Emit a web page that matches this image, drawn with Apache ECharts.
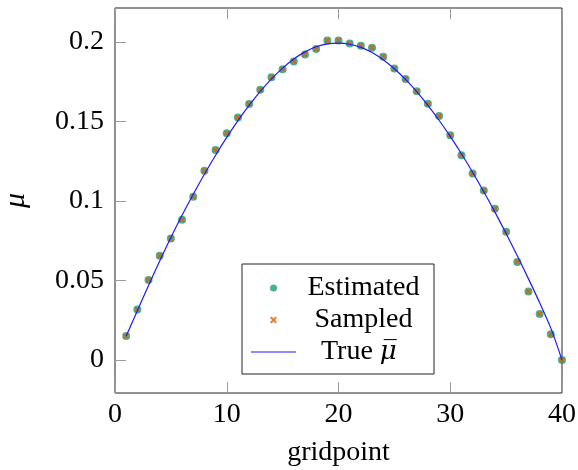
<!DOCTYPE html>
<html>
<head>
<meta charset="utf-8">
<script src="https://cdn.jsdelivr.net/npm/echarts@6/dist/echarts.min.js"></script>
<style>html,body{margin:0;padding:0;background:#fff}#c{width:578px;height:470px}</style>
</head>
<body>
<div id="c"></div>
<script>
const gridpoints = [1,2,3,4,5,6,7,8,9,10,11,12,13,14,15,16,17,18,19,20,21,22,23,24,25,26,27,28,29,30,31,32,33,34,35,36,37,38,39,40];
const estimated = [0.0151,0.0318,0.0503,0.0656,0.0764,0.0882,0.1026,0.1190,0.1320,0.1426,0.1525,0.1610,0.1700,0.1778,0.1828,0.1878,0.1922,0.1956,0.2010,0.2010,
                   0.1991,0.1977,0.1964,0.1908,0.1834,0.1768,0.1690,0.1612,0.1535,0.1413,0.1288,0.1173,0.1066,0.0951,0.0807,0.0616,0.0430,0.0289,0.0161,0.0000];
const sampled = [0.0151,0.0318,0.0503,0.0656,0.0764,0.0882,0.1026,0.1190,0.1320,0.1426,0.1525,0.1610,0.1700,0.1778,0.1828,0.1878,0.1922,0.1956,0.2010,0.2010,
                 0.1991,0.1977,0.1964,0.1908,0.1834,0.1768,0.1690,0.1612,0.1535,0.1413,0.1288,0.1173,0.1066,0.0951,0.0807,0.0616,0.0430,0.0289,0.0161,0.0000];
const trueMu = [0.0150,0.0310,0.0468,0.0622,0.0770,0.0910,0.1042,0.1168,0.1288,0.1400,0.1505,0.1601,0.1689,0.1768,0.1836,0.1893,0.1938,0.1970,0.1988,0.1993,
                0.1986,0.1966,0.1934,0.1889,0.1832,0.1765,0.1688,0.1602,0.1508,0.1406,0.1297,0.1181,0.1058,0.0930,0.0795,0.0655,0.0510,0.0360,0.0200,0.0000];
const xTicks = [0,10,20,30,40];
const yTicks = [0,0.05,0.1,0.15,0.2];

const FONT = '"Liberation Serif", "DejaVu Serif", serif';
const FS = 28;
const pairs = (ys) => gridpoints.map((x,i)=>[x, ys[i]]);
const crossPath = 'path://M0,2 L2,0 L5,3 L8,0 L10,2 L7,5 L10,8 L8,10 L5,7 L2,10 L0,8 L3,5 Z';
const linePath = 'path://M0,0 L45,0 L45,1.2 L0,1.2 Z';

const chart = echarts.init(document.getElementById('c'), null, {renderer:'canvas'});
const tickStyle = {show:true, inside:true, length:11, lineStyle:{color:'#9a9a9a', width:1}};
chart.setOption({
  animation:false,
  backgroundColor:'#fff',
  grid:{left:115, right:16, top:8, bottom:77, containLabel:false, outerBoundsMode:'none',
        show:true, borderColor:'#222', borderWidth:1, backgroundColor:'transparent'},
  xAxis:[
    {type:'value', min:0, max:40, interval:10, position:'bottom',
     axisLine:{show:false, onZero:false}, axisTick:Object.assign({customValues:xTicks}, tickStyle),
     axisLabel:{customValues:xTicks, color:'#000', fontFamily:FONT, fontSize:FS, margin:8},
     splitLine:{show:false},
     name:'gridpoint', nameLocation:'middle', nameGap:46,
     nameTextStyle:{color:'#000', fontFamily:FONT, fontSize:FS}},
    {type:'value', min:0, max:40, interval:10, position:'top',
     axisLine:{show:false, onZero:false}, axisTick:Object.assign({customValues:xTicks}, tickStyle),
     axisLabel:{show:false}, splitLine:{show:false}}
  ],
  yAxis:[
    {type:'value', min:-0.0208, max:0.2214, position:'left',
     axisLine:{show:false, onZero:false}, axisTick:Object.assign({customValues:yTicks}, tickStyle),
     axisLabel:{customValues:yTicks, color:'#000', fontFamily:FONT, fontSize:FS, margin:11},
     splitLine:{show:false},
     name:'μ', nameLocation:'middle', nameGap:84, nameRotate:90,
     nameTextStyle:{color:'#000', fontFamily:FONT, fontSize:30, fontStyle:'italic'}}
  ],
  legend:{
    left:242, top:264, orient:'vertical', align:'left',
    padding:[10,8,8,9], itemGap:4, itemWidth:45, itemHeight:7,
    borderColor:'#222', borderWidth:1, backgroundColor:'#fff',
    selectedMode:false,
    data:[
      {name:'Estimated', icon:'circle'},
      {name:'Sampled', icon:crossPath},
      {name:'True', icon:linePath}
    ],
    formatter:(n)=> n==='True' ? '{t|True }{m|μ\u0305}' : '{c|' + n + '}',
    textStyle:{color:'#000', fontFamily:FONT, fontSize:FS, lineHeight:26,
      rich:{
        c:{fontFamily:FONT, fontSize:FS, color:'#000', width:125, align:'center', lineHeight:26},
        t:{fontFamily:FONT, fontSize:FS, color:'#000', lineHeight:26, padding:[0,0,0,20]},
        m:{fontFamily:'"DejaVu Serif", serif', fontSize:26, fontStyle:'italic', color:'#000', lineHeight:26}
      }}
  },
  series:[
    {name:'Estimated', type:'scatter', data:pairs(estimated), symbol:'circle', symbolSize:8,
     itemStyle:{color:'#1b9e77'}, z:2},
    {name:'Sampled', type:'scatter', data:pairs(sampled), symbol:crossPath, symbolSize:6,
     itemStyle:{color:'#d95f02'}, z:3},
    {name:'True', type:'line', data:pairs(trueMu), symbol:'none', showSymbol:false, smooth:0.3,
     lineStyle:{color:'#1a1aff', width:1.2}, itemStyle:{color:'#1a1aff'}, z:4}
  ]
});
</script>
</body>
</html>
